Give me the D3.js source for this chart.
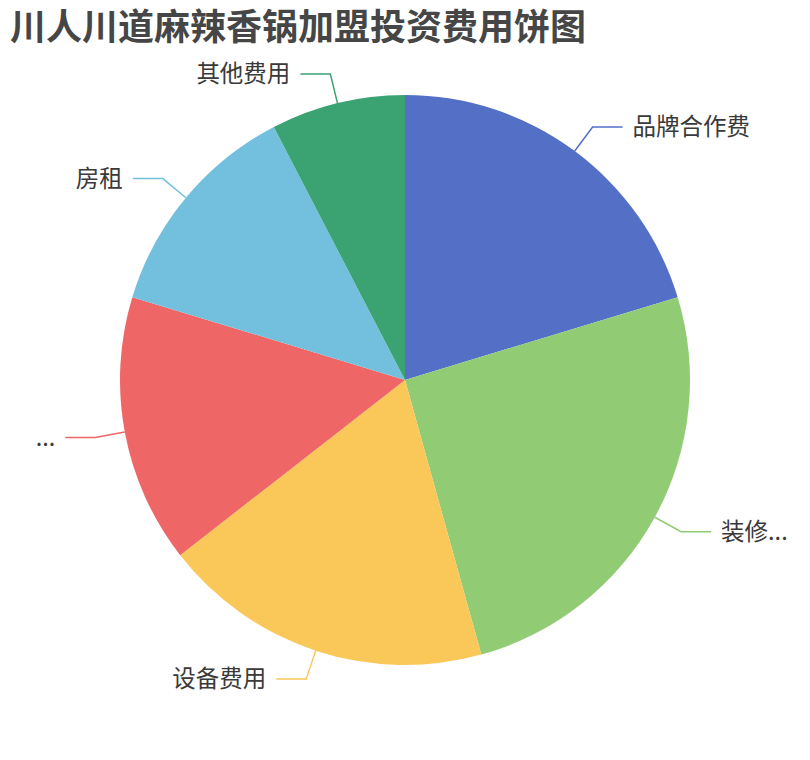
<!DOCTYPE html>
<html>
<head lang="zh">
  <meta charset="UTF-8">
  <title>川人川道麻辣香锅加盟投资费用饼图</title>
</head>
<style>
  body { margin: 0; background: #fff; }
  #chart text { font-family: "Noto Sans CJK SC", "Noto Sans", sans-serif; }
</style>
<body>

<svg id="chart" width="810" height="760"></svg>

<script src="https://cdn.jsdelivr.net/npm/d3@7"></script>
<script>
  // Data (labels as displayed, truncated ones included)
  var labels = ['品牌合作费', '装修...', '设备费用', '...', '房租', '其他费用'];
  var values = [8, 10, 7.4, 6, 5, 3];
  var colors = ['#5470c6', '#91cc75', '#fac858', '#ee6666', '#73c0de', '#3ba272'];

  var cx = 405, cy = 380, radius = 285;
  var len1 = 30, len2 = 30;

  var chart = d3.select('#chart');

  chart.append('text')
    .attr('x', 10)
    .attr('y', 40)
    .attr('fill', '#464646')
    .style('font-size', '36px')
    .style('font-weight', 'bold')
    .text('川人川道麻辣香锅加盟投资费用饼图');

  var pie = d3.pie().sort(null).value(function (d) { return d; });
  var arcs = pie(values);

  var arc = d3.arc().innerRadius(0).outerRadius(radius);

  var g = chart.append('g')
    .attr('transform', 'translate(' + cx + ',' + cy + ')');

  g.selectAll('path.slice')
    .data(arcs)
    .enter()
      .append('path')
      .attr('class', 'slice')
      .attr('d', arc)
      .attr('fill', function (d, i) { return colors[i]; });

  // label lines: radial segment then a horizontal one
  function mid(d) { return (d.startAngle + d.endAngle) / 2; }
  function pt(a, r) { return [Math.sin(a) * r, -Math.cos(a) * r]; }
  function side(d) { return Math.sin(mid(d)) >= 0 ? 1 : -1; }

  g.selectAll('polyline')
    .data(arcs)
    .enter()
      .append('polyline')
      .attr('fill', 'none')
      .attr('stroke', function (d, i) { return colors[i]; })
      .attr('stroke-width', 1.5)
      .attr('points', function (d) {
        var a = mid(d);
        var p0 = pt(a, radius), p1 = pt(a, radius + len1);
        var p2 = [p1[0] + side(d) * len2, p1[1]];
        return [p0, p1, p2].map(function (p) { return p.join(','); }).join(' ');
      });

  g.selectAll('text.label')
    .data(arcs)
    .enter()
      .append('text')
      .attr('class', 'label')
      .attr('x', function (d) { return pt(mid(d), radius + len1)[0] + side(d) * (len2 + 10); })
      .attr('y', function (d) { return pt(mid(d), radius + len1)[1]; })
      .attr('dy', '0.35em')
      .attr('text-anchor', function (d) { return side(d) > 0 ? 'start' : 'end'; })
      .attr('fill', '#3a3a3a')
      .style('font-size', '23.5px')
      .text(function (d, i) { return labels[i]; });
</script>
</body>
</html>
